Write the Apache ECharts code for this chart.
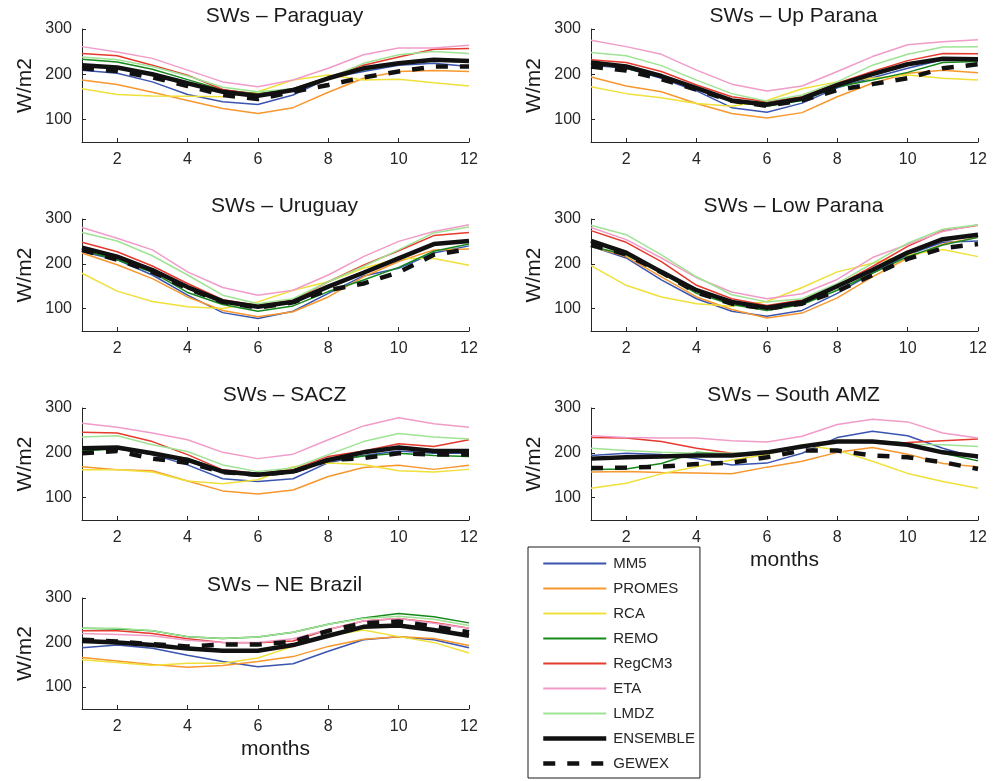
<!DOCTYPE html>
<html>
<head>
<meta charset="utf-8">
<script src="https://cdn.jsdelivr.net/npm/echarts@6/dist/echarts.min.js"></script>
<style>
html,body{margin:0;padding:0;background:#fff;}
#chart{width:1002px;height:781px;}
</style>
</head>
<body>
<div id="chart"></div>
<script>
// months on the x axis
const months = [1,2,3,4,5,6,7,8,9,10,11,12];
const xTicks = [2,4,6,8,10,12];
const yTicks = [100,200,300];
const models = ['MM5','PROMES','RCA','REMO','RegCM3','ETA','LMDZ','ENSEMBLE','GEWEX'];
const regions = ['SWs \u2013 Paraguay','SWs \u2013 Up Parana','SWs \u2013 Uruguay','SWs \u2013 Low Parana','SWs \u2013 SACZ','SWs \u2013 South AMZ','SWs \u2013 NE Brazil'];

// rows follow the models order: MM5, PROMES, RCA, REMO, RegCM3, ETA, LMDZ, ENSEMBLE, GEWEX
const paraguay = [
  [209,202,183,155,139,133,154,191,206,220,224,217],
  [187,177,160,142,124,113,126,160,191,206,208,206],
  [168,155,152,151,150,161,187,198,187,189,181,174],
  [233,227,211,188,165,157,168,192,209,223,232,232],
  [246,241,220,198,166,155,168,193,220,238,255,257],
  [261,249,235,209,183,172,187,213,243,258,258,264],
  [238,232,217,196,171,161,168,191,224,243,250,246],
  [220,215,200,180,161,152,165,191,213,224,232,229],
  [213,207,193,174,154,145,161,176,193,206,217,217]
];
const upParana = [
  [220,213,191,163,126,116,136,170,192,213,232,232],
  [194,174,161,135,113,103,115,150,180,202,209,203],
  [172,157,148,135,129,142,168,183,191,198,191,187],
  [224,213,193,169,139,129,142,172,187,204,226,228],
  [232,226,206,176,150,139,150,180,206,230,246,245],
  [275,261,244,209,178,163,174,206,239,265,272,276],
  [248,241,219,187,157,140,154,183,220,244,260,261],
  [226,217,196,169,142,133,146,176,200,222,234,233],
  [217,208,189,166,141,130,142,165,178,191,213,222]
];
const uruguay = [
  [227,209,175,130,91,78,94,134,173,190,224,240],
  [224,198,167,126,96,82,93,126,171,205,231,233],
  [179,139,116,104,100,115,141,160,190,212,212,197],
  [231,209,181,136,109,94,106,138,164,192,228,244],
  [248,227,195,156,120,107,119,160,197,229,263,270],
  [281,257,231,182,147,130,141,175,216,250,272,287],
  [270,251,218,175,130,111,122,160,194,231,269,282],
  [236,216,186,148,116,104,115,149,180,212,244,251],
  [231,209,182,145,115,102,114,141,156,181,220,233]
];
const lowParana = [
  [239,213,164,122,94,83,96,134,179,220,248,251],
  [239,216,171,126,98,79,90,124,171,213,244,259],
  [196,152,126,111,105,116,147,182,201,220,232,216],
  [239,220,179,134,109,96,109,141,179,216,242,259],
  [274,248,205,152,122,107,119,152,194,239,274,286],
  [281,254,213,169,137,122,133,165,214,243,272,287],
  [286,265,220,171,131,115,122,156,201,246,277,287],
  [251,225,182,141,115,102,114,150,186,225,255,265],
  [242,221,181,136,111,100,111,139,175,211,235,244]
];
const sacz = [
  [207,210,196,173,142,136,142,178,194,204,199,199],
  [169,162,160,137,115,108,117,147,167,172,163,172],
  [162,162,157,137,131,140,169,177,174,160,157,163],
  [204,209,196,188,160,151,158,182,193,199,194,192],
  [246,244,225,196,162,154,162,192,204,220,214,229],
  [266,257,244,229,201,187,197,229,260,278,265,257],
  [235,238,218,203,173,158,166,196,225,243,235,231],
  [210,212,199,184,158,151,158,184,201,212,204,204],
  [199,204,187,178,157,151,158,184,188,199,196,196]
];
const southAmz = [
  [194,199,196,187,173,177,199,234,248,238,210,188],
  [157,158,156,155,153,168,181,201,212,197,176,169],
  [121,132,153,169,184,196,218,206,181,154,136,121],
  [163,164,176,201,197,201,214,227,227,222,199,182],
  [234,233,225,210,199,201,214,225,222,223,227,231],
  [238,234,233,233,227,224,237,263,275,269,244,233],
  [210,205,201,199,199,203,214,225,222,219,218,214],
  [187,190,192,194,194,201,214,225,225,218,201,192],
  [166,167,169,175,178,190,205,205,194,190,179,164]
];
const neBrazil = [
  [188,194,187,171,157,145,152,180,206,213,206,188],
  [166,158,150,144,148,157,168,191,207,213,209,193],
  [161,155,148,153,153,165,191,215,228,213,200,176],
  [232,230,226,213,209,212,223,241,255,265,258,244],
  [226,226,220,208,200,199,203,229,248,254,245,232],
  [220,218,215,205,200,200,208,229,248,254,243,232],
  [232,232,226,213,209,212,223,241,254,259,252,238],
  [203,200,194,186,181,181,194,215,235,238,228,215],
  [206,202,196,191,195,195,202,226,243,247,236,223]
];
const regionData = [paraguay, upParana, uruguay, lowParana, sacz, southAmz, neBrazil];

const colors = ['#3a55b0','#f7972e','#f0e03a','#16891c','#e63a2e','#f19cc8','#9fe394','#111111','#111111'];
const widths = [1.5,1.5,1.5,1.5,1.5,1.5,1.5,4.5,4.5];
const legendWidths = [2,2,2,2,2,2,2,4.5,4.5];
const types  = ['solid','solid','solid','solid','solid','solid','solid','solid',[12,12]];

// panel layout
const gridPos = [
  {left:82, top:29, h:113},
  {left:591,top:29, h:113},
  {left:82, top:219,h:112},
  {left:591,top:219,h:112},
  {left:82, top:408,h:112},
  {left:591,top:408,h:112},
  {left:82, top:598,h:111}
];
const W = 387;
const FONT = 'Liberation Sans, Arial, Helvetica, sans-serif';
const TXT = '#262626';

const grids = [], xAxes = [], yAxes = [], titles = [], series = [];
gridPos.forEach((g, i) => {
  grids.push({left:g.left, top:g.top, width:W, height:g.h, containLabel:false});
  titles.push({
    text: regions[i], left: g.left + W/2 + 4, top: g.top - 28, textAlign:'center',
    textStyle:{fontFamily:FONT, fontSize:21, fontWeight:'normal', color:'#1a1a1a'}
  });
  const showMonths = (i === 5 || i === 6);
  xAxes.push({
    type:'value', gridIndex:i, min:1, max:12,
    name: showMonths ? 'months' : '', nameLocation:'middle', nameGap:30,
    nameTextStyle:{fontFamily:FONT, fontSize:21, color:'#1a1a1a'},
    axisLine:{show:true, onZero:false, lineStyle:{color:TXT, width:1}},
    axisTick:{show:true, inside:true, length:4, customValues:xTicks, lineStyle:{color:TXT}},
    axisLabel:{show:true, customValues:xTicks, margin:10, fontFamily:FONT, fontSize:16, color:TXT},
    splitLine:{show:false}
  });
  yAxes.push({
    type:'value', gridIndex:i, min:50, max:300,
    name:'W/m2', nameLocation:'middle', nameGap:46, nameRotate:90,
    nameTextStyle:{fontFamily:FONT, fontSize:21, color:'#1a1a1a'},
    axisLine:{show:true, onZero:false, lineStyle:{color:TXT, width:1}},
    axisTick:{show:true, inside:true, length:4, customValues:yTicks, lineStyle:{color:TXT}},
    axisLabel:{show:true, customValues:yTicks, margin:10, fontFamily:FONT, fontSize:16, color:TXT},
    splitLine:{show:false}
  });
  regionData[i].forEach((vals, k) => {
    series.push({
      type:'line', name:models[k], xAxisIndex:i, yAxisIndex:i,
      data: months.map((m, j) => [m, vals[j]]),
      symbol:'none', showSymbol:false, smooth:false, silent:true,
      z: 2 + k,
      color: colors[k],
      lineStyle:{color:colors[k], width:widths[k], type:types[k]}
    });
  });
});

const chart = echarts.init(document.getElementById('chart'), null, {renderer:'canvas'});
chart.setOption({
  animation:false,
  backgroundColor:'#ffffff',
  title: titles,
  grid: grids,
  xAxis: xAxes,
  yAxis: yAxes,
  legend:{
    data: models.map((m, k) => ({name:m, lineStyle:{width:legendWidths[k], type:types[k], color:colors[k]}})),
    orient:'vertical', left:528, top:547,
    padding:[9,5,7,13],
    itemWidth:63, itemHeight:14, itemGap:10,
    borderColor:'#1a1a1a', borderWidth:1,
    backgroundColor:'#ffffff',
    itemStyle:{color:'rgba(0,0,0,0)', borderWidth:0, opacity:0},
    textStyle:{fontFamily:FONT, fontSize:15, lineHeight:15, color:TXT, padding:[0,0,0,2]},
    selectedMode:false
  },
  series: series
});
</script>
</body>
</html>
